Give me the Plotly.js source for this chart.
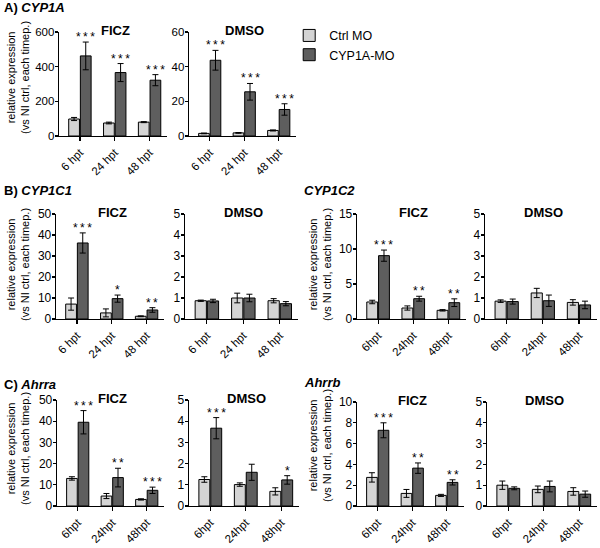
<!DOCTYPE html>
<html>
<head>
<meta charset="utf-8">
<script src="https://cdn.plot.ly/plotly-3.0.1.min.js"></script>
<style>body{margin:0;background:#fff}</style>
</head>
<body>
<div id="chart" style="width:600px;height:548px"></div>
<script>
// tick labels
var hptSpaced = ["6 hpt", "24 hpt", "48 hpt"];
var hptTight = ["6hpt", "24hpt", "48hpt"];

// A) CYP1A
var cyp1aFiczCtrl = [98, 75, 80];
var cyp1aFiczCtrlErr = [9, 5, 3];
var cyp1aFiczMo = [462, 366, 322];
var cyp1aFiczMoErr = [80, 52, 32];
var cyp1aFiczSig = ["***", "***", "***"];

var cyp1aDmsoCtrl = [1.5, 1.8, 3.2];
var cyp1aDmsoCtrlErr = [0.2, 0.2, 0.3];
var cyp1aDmsoMo = [43.7, 25.5, 15.3];
var cyp1aDmsoMoErr = [5.7, 4.8, 3.3];
var cyp1aDmsoSig = ["***", "***", "***"];

// B) CYP1C1
var cyp1c1FiczCtrl = [7.1, 2.9, 1.3];
var cyp1c1FiczCtrlErr = [2.9, 1.9, 0.2];
var cyp1c1FiczMo = [36.2, 9.7, 4.3];
var cyp1c1FiczMoErr = [4.8, 1.7, 1.1];
var cyp1c1FiczSig = ["***", "*", "**"];

var cyp1c1DmsoCtrl = [0.87, 1.0, 0.87];
var cyp1c1DmsoCtrlErr = [0.03, 0.23, 0.1];
var cyp1c1DmsoMo = [0.86, 1.0, 0.73];
var cyp1c1DmsoMoErr = [0.08, 0.18, 0.1];
var cyp1c1DmsoSig = ["", "", ""];

// CYP1C2
var cyp1c2FiczCtrl = [2.43, 1.57, 1.24];
var cyp1c2FiczCtrlErr = [0.25, 0.3, 0.1];
var cyp1c2FiczMo = [9.05, 2.9, 2.33];
var cyp1c2FiczMoErr = [0.8, 0.35, 0.55];
var cyp1c2FiczSig = ["***", "**", "**"];

var cyp1c2DmsoCtrl = [0.85, 1.24, 0.79];
var cyp1c2DmsoCtrlErr = [0.06, 0.22, 0.13];
var cyp1c2DmsoMo = [0.83, 0.87, 0.67];
var cyp1c2DmsoMoErr = [0.12, 0.27, 0.18];
var cyp1c2DmsoSig = ["", "", ""];

// C) Ahrra
var ahrraFiczCtrl = [13.0, 4.7, 3.1];
var ahrraFiczCtrlErr = [0.8, 1.2, 0.3];
var ahrraFiczMo = [39.5, 13.4, 7.4];
var ahrraFiczMoErr = [5.5, 4.4, 1.5];
var ahrraFiczSig = ["***", "**", "***"];

var ahrraDmsoCtrl = [1.25, 1.01, 0.69];
var ahrraDmsoCtrlErr = [0.13, 0.08, 0.17];
var ahrraDmsoMo = [3.67, 1.59, 1.23];
var ahrraDmsoMoErr = [0.5, 0.38, 0.2];
var ahrraDmsoSig = ["***", "", "*"];

// Ahrrb
var ahrrbFiczCtrl = [2.75, 1.21, 1.02];
var ahrrbFiczCtrlErr = [0.45, 0.38, 0.1];
var ahrrbFiczMo = [7.28, 3.64, 2.27];
var ahrrbFiczMoErr = [0.72, 0.5, 0.25];
var ahrrbFiczSig = ["***", "**", "**"];

var ahrrbDmsoCtrl = [1.0, 0.8, 0.7];
var ahrrbDmsoCtrlErr = [0.2, 0.16, 0.18];
var ahrrbDmsoMo = [0.85, 0.94, 0.57];
var ahrrbDmsoMoErr = [0.07, 0.26, 0.15];
var ahrrbDmsoSig = ["", "", ""];

// y axis tick values
var ticksA1 = [0, 200, 400, 600];
var ticksA2 = [0, 20, 40, 60];
var ticks50 = [0, 10, 20, 30, 40, 50];
var ticks5 = [0, 1, 2, 3, 4, 5];
var ticks15 = [0, 5, 10, 15];
var ticks10 = [0, 2, 4, 6, 8, 10];

var W = 600, H = 548;
var FONT = '"Liberation Sans", Arial, Helvetica, sans-serif';
var LIGHT = "#d4d4d4", DARK = "#5e5e5e";

// panel boxes in pixels: [left, right, top, bottom]
var panels = [
  {cats: hptSpaced, ctrl: cyp1aFiczCtrl, ctrlErr: cyp1aFiczCtrlErr, mo: cyp1aFiczMo, moErr: cyp1aFiczMoErr, sig: cyp1aFiczSig, ticks: ticksA1, title: "FICZ", box: [59, 167, 32, 136], tf: 11.5},
  {cats: hptSpaced, ctrl: cyp1aDmsoCtrl, ctrlErr: cyp1aDmsoCtrlErr, mo: cyp1aDmsoMo, moErr: cyp1aDmsoMoErr, sig: cyp1aDmsoSig, ticks: ticksA2, title: "DMSO", box: [189, 296, 32, 136], tf: 11.5},
  {cats: hptSpaced, ctrl: cyp1c1FiczCtrl, ctrlErr: cyp1c1FiczCtrlErr, mo: cyp1c1FiczMo, moErr: cyp1c1FiczMoErr, sig: cyp1c1FiczSig, ticks: ticks50, title: "FICZ", box: [56, 164, 214, 319], tf: 12},
  {cats: hptSpaced, ctrl: cyp1c1DmsoCtrl, ctrlErr: cyp1c1DmsoCtrlErr, mo: cyp1c1DmsoMo, moErr: cyp1c1DmsoMoErr, sig: cyp1c1DmsoSig, ticks: ticks5, title: "DMSO", box: [185, 298, 214, 319], tf: 12},
  {cats: hptTight, ctrl: cyp1c2FiczCtrl, ctrlErr: cyp1c2FiczCtrlErr, mo: cyp1c2FiczMo, moErr: cyp1c2FiczMoErr, sig: cyp1c2FiczSig, ticks: ticks15, title: "FICZ", box: [357, 466, 214, 319], tf: 12},
  {cats: hptTight, ctrl: cyp1c2DmsoCtrl, ctrlErr: cyp1c2DmsoCtrlErr, mo: cyp1c2DmsoMo, moErr: cyp1c2DmsoMoErr, sig: cyp1c2DmsoSig, ticks: ticks5, title: "DMSO", box: [485, 597, 214, 319], tf: 12},
  {cats: hptTight, ctrl: ahrraFiczCtrl, ctrlErr: ahrraFiczCtrlErr, mo: ahrraFiczMo, moErr: ahrraFiczMoErr, sig: ahrraFiczSig, ticks: ticks50, title: "FICZ", box: [57, 164, 400, 506], tf: 12},
  {cats: hptTight, ctrl: ahrraDmsoCtrl, ctrlErr: ahrraDmsoCtrlErr, mo: ahrraDmsoMo, moErr: ahrraDmsoMoErr, sig: ahrraDmsoSig, ticks: ticks5, title: "DMSO", box: [189, 299, 400, 506], tf: 12},
  {cats: hptTight, ctrl: ahrrbFiczCtrl, ctrlErr: ahrrbFiczCtrlErr, mo: ahrrbFiczMo, moErr: ahrrbFiczMoErr, sig: ahrrbFiczSig, ticks: ticks10, title: "FICZ", box: [357, 464, 402, 506], tf: 12},
  {cats: hptTight, ctrl: ahrrbDmsoCtrl, ctrlErr: ahrrbDmsoCtrlErr, mo: ahrrbDmsoMo, moErr: ahrrbDmsoMoErr, sig: ahrrbDmsoSig, ticks: ticks5, title: "DMSO", box: [487, 597, 402, 506], tf: 12}
];

var BARGAP = 0.33, XRANGE = [-0.6, 2.5];
var data = [];
var layout = {
  width: W, height: H,
  margin: {l: 0, r: 0, t: 0, b: 0},
  paper_bgcolor: "#fff", plot_bgcolor: "#fff",
  font: {family: FONT, color: "#000", size: 12},
  barmode: "group", bargap: BARGAP, bargroupgap: 0.08,
  showlegend: true,
  legend: {x: 0.482, y: 0.962, xanchor: "left", yanchor: "top", font: {family: FONT, size: 12.5}, bgcolor: "rgba(0,0,0,0)", tracegroupgap: 0},
  annotations: []
};

panels.forEach(function (p, i) {
  var n = i === 0 ? "" : String(i + 1);
  var xa = "x" + n, ya = "y" + n;
  var err = function (arr) { return {type: "data", array: arr, color: "#000", thickness: 1, width: 3}; };
  data.push({
    type: "bar", name: "Ctrl MO", legendgroup: "ctrl", showlegend: i === 0,
    x: p.cats, y: p.ctrl, error_y: err(p.ctrlErr),
    marker: {color: LIGHT, line: {color: "#000", width: 1}},
    xaxis: xa, yaxis: ya, hoverinfo: "x+y"
  });
  data.push({
    type: "bar", name: "CYP1A-MO", legendgroup: "mo", showlegend: i === 0,
    x: p.cats, y: p.mo, error_y: err(p.moErr),
    marker: {color: DARK, line: {color: "#000", width: 1}},
    xaxis: xa, yaxis: ya, hoverinfo: "x+y"
  });

  var b = p.box;
  layout["xaxis" + n] = {
    domain: [b[0] / W, b[1] / W], anchor: ya, type: "category", range: XRANGE,
    showline: true, linecolor: "#000", linewidth: 1.3,
    ticks: "outside", ticklen: 4, tickwidth: 1.2, tickcolor: "#000",
    tickangle: -45, tickfont: {family: FONT, size: 11.5, color: "#000"},
    showgrid: false, zeroline: false, fixedrange: true
  };
  layout["yaxis" + n] = {
    domain: [1 - b[3] / H, 1 - b[2] / H], anchor: xa,
    range: [0, p.ticks[p.ticks.length - 1]], tickvals: p.ticks,
    showline: true, linecolor: "#000", linewidth: 1.3,
    ticks: "outside", ticklen: 3, tickwidth: 1.2, tickcolor: "#000",
    ticklabelstandoff: -2,
    tickfont: {family: FONT, size: p.tf, color: "#000"},
    showgrid: false, zeroline: false, fixedrange: true
  };

  // panel title
  layout.annotations.push({
    text: "<b>" + p.title + "</b>", xref: xa + " domain", yref: ya + " domain",
    x: 0.52, y: 1, xanchor: "center", yanchor: "middle", yshift: 2,
    showarrow: false, font: {family: FONT, size: 13}
  });

  // significance marks over the CYP1A-MO bars
  var catPx = (b[1] - b[0]) / (XRANGE[1] - XRANGE[0]);
  var shift = catPx * (1 - BARGAP) / 4;
  p.sig.forEach(function (s, j) {
    if (!s) return;
    layout.annotations.push({
      text: s.split("").join("\u2009"), xref: xa, yref: ya,
      x: p.cats[j], y: p.mo[j] + p.moErr[j], xshift: shift, yshift: -4,
      xanchor: "center", yanchor: "bottom", showarrow: false, font: {family: FONT, size: 12}
    });
  });
});

// gene labels
var geneLabels = [
  ["<b>A) <i>CYP1A</i></b>", 2, 8],
  ["<b>B) <i>CYP1C1</i></b>", 2, 191],
  ["<b><i>CYP1C2</i></b>", 302, 191],
  ["<b>C) <i>Ahrra</i></b>", 2, 384],
  ["<b><i>Ahrrb</i></b>", 302, 382]
];
geneLabels.forEach(function (g) {
  layout.annotations.push({
    text: g[0], xref: "paper", yref: "paper", x: g[1] / W, y: 1 - g[2] / H,
    xanchor: "left", yanchor: "middle", showarrow: false, font: {family: FONT, size: 13}
  });
});

// y axis titles
var yTitle = "relative expression<br>(vs NI ctrl, each timep.)";
[[18, 78], [18, 265], [320, 265], [18, 449], [320, 446]].forEach(function (t) {
  layout.annotations.push({
    text: yTitle, xref: "paper", yref: "paper", x: t[0] / W, y: 1 - t[1] / H,
    xanchor: "center", yanchor: "middle", textangle: -90, showarrow: false,
    font: {family: FONT, size: 11}
  });
});

Plotly.newPlot(document.getElementById("chart"), data, layout, {staticPlot: true});
</script>
</body>
</html>
